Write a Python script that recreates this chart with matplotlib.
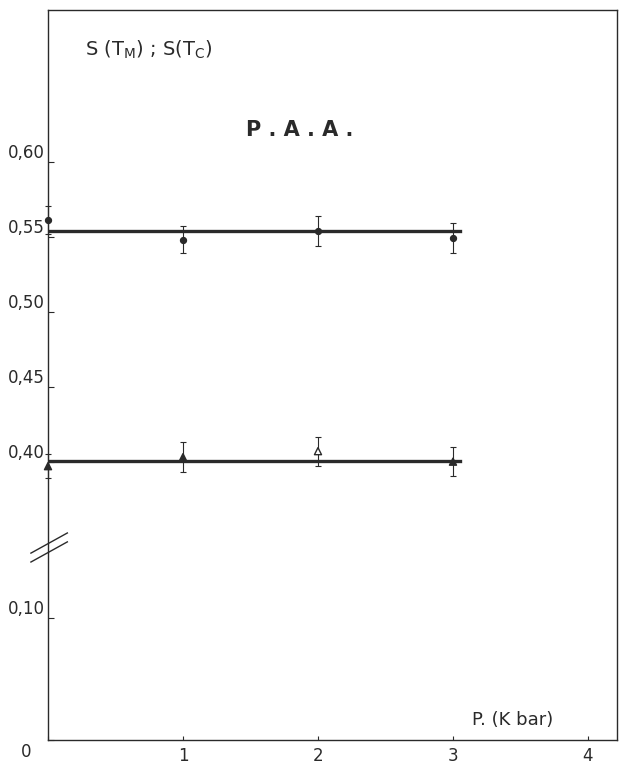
import matplotlib
matplotlib.use("Agg")
import matplotlib.pyplot as plt
import matplotlib.lines as mlines
import numpy as np

# pressure (K bar)
pressure = [0, 1, 2, 3]

# S(T_M) - circles
s_tm = [0.561, 0.548, 0.554, 0.549]
s_tm_err = [0.0095, 0.009, 0.010, 0.010]
s_tm_level = 0.554

# S(T_C) - triangles
s_tc = [0.397, 0.403, 0.407, 0.400]
s_tc_err = [0.008, 0.010, 0.0097, 0.0095]
s_tc_level = 0.4007

fit_range = [0, 3.05]

yticks = [0, 0.10, 0.40, 0.45, 0.50, 0.55, 0.60]
ytick_labels = ["", "0,10", "0,40", "0,45", "0,50", "0,55", "0,60"]
xticks = [0, 1, 2, 3, 4]
xtick_labels = ["", "1", "2", "3", "4"]

# broken y axis: two linear pieces joined at the break
lo, hi = 0.158, 0.343
k1, k2 = 1220.0, 1500.0


def forward(y):
    y = np.asarray(y, dtype=float)
    return np.where(y <= lo, k1 * y,
                    np.where(y >= hi, k1 * lo + k2 * (y - hi), k1 * lo))


def inverse(f):
    f = np.asarray(f, dtype=float)
    return np.where(f <= k1 * lo, f / k1, (f - k1 * lo) / k2 + hi)


plt.rcParams['font.family'] = ['DejaVu Sans']
ink = '#2a2a2a'

fig = plt.figure(figsize=(6.2, 7.69), dpi=100)
ax = fig.add_axes([48 / 620, 29 / 769, 569 / 620, 730 / 769])
ax.set_yscale('function', functions=(forward, inverse))
ax.set_xlim(0, 4.215)
ax.set_ylim(0, 0.701)

for sp in ax.spines.values():
    sp.set_color(ink)
    sp.set_linewidth(1.0)

# fitted levels
ax.plot(fit_range, [s_tm_level, s_tm_level], color=ink, lw=2.4, zorder=2)
ax.plot(fit_range, [s_tc_level, s_tc_level], color=ink, lw=2.4, zorder=2)

ax.errorbar(pressure, s_tm, yerr=s_tm_err, fmt='none', ecolor=ink,
            elinewidth=0.8, capsize=2.5, capthick=0.8, zorder=3, clip_on=False)
ax.errorbar(pressure, s_tc, yerr=s_tc_err, fmt='none', ecolor=ink,
            elinewidth=0.8, capsize=2.5, capthick=0.8, zorder=3, clip_on=False)

ax.scatter(pressure, s_tm, s=18, color=ink, zorder=4, clip_on=False)
tc_faces = [ink, ink, 'white', ink]
ax.scatter(pressure, s_tc, s=26, marker='^', facecolors=tc_faces,
           edgecolors=ink, linewidths=1.0, zorder=4, clip_on=False)

ax.set_yticks(yticks)
ax.set_yticklabels(ytick_labels)
ax.set_xticks(xticks)
ax.set_xticklabels(xtick_labels)
ax.yaxis.set_minor_locator(matplotlib.ticker.NullLocator())
ax.tick_params(axis='y', direction='in', length=4, width=0.8, colors=ink,
               labelsize=12, pad=2)
ax.tick_params(axis='x', direction='in', length=3, width=0.8, colors=ink,
               labelsize=12, pad=5)
for lab in ax.get_yticklabels():
    lab.set_va('bottom')

ax.annotate("0", xy=(0, 0), xytext=(-16, -2), textcoords='offset points',
            fontsize=12, color=ink, ha='center', va='top')

# break marks on the y axis
for y0 in (0.256, 0.2438):
    ax.add_line(mlines.Line2D([-0.030, 0.034], [y0, y0 + 0.0276],
                              transform=ax.transAxes, color=ink, lw=1.0,
                              clip_on=False))

ax.text(0.065, 0.945, r"S (T$_\mathrm{M}$) ; S(T$_\mathrm{C}$)",
        transform=ax.transAxes, fontsize=14, color=ink, ha='left',
        va='center')
ax.text(0.443, 0.836, "P . A . A .", transform=ax.transAxes,
        fontsize=15, fontweight='bold', color=ink, ha='center', va='center')
ax.text(0.745, 0.027, "P. (K bar)", transform=ax.transAxes,
        fontsize=13, color=ink, ha='left', va='center')

fig.savefig("out.png", dpi=100)
